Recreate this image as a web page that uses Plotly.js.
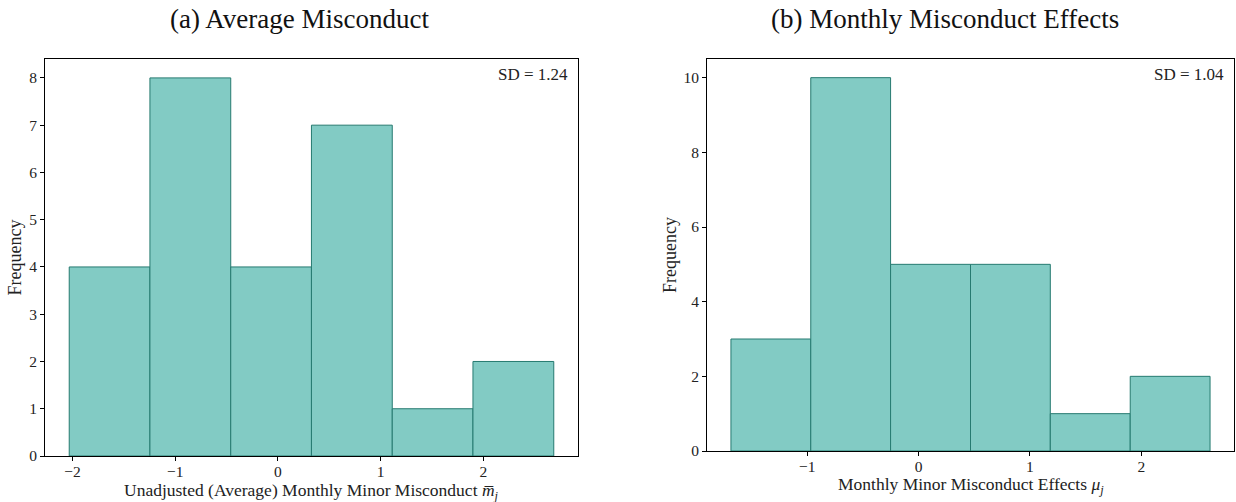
<!DOCTYPE html>
<html>
<head>
<meta charset="utf-8">
<script src="https://cdn.plot.ly/plotly-3.0.1.min.js"></script>
<style>html,body{margin:0;padding:0;background:#fff;}#chart{width:1236px;height:502px;}</style>
</head>
<body>
<div id="chart"></div>
<script>
// Panel (a): histogram bin edges and counts
const leftEdges = [-2.033, -1.247, -0.460, 0.326, 1.113, 1.899, 2.686];
const leftCounts = [4, 8, 4, 7, 1, 2];
const leftSD = "1.24";
// Panel (b)
const rightEdges = [-1.686, -0.969, -0.252, 0.466, 1.183, 1.901, 2.618];
const rightCounts = [3, 10, 5, 5, 1, 2];
const rightSD = "1.04";

const titles = ["(a) Average Misconduct", "(b) Monthly Misconduct Effects"];
const xTitles = ["Unadjusted (Average) Monthly Minor Misconduct <i>m\u0305</i><sub><i>j</i></sub>",
                 "Monthly Minor Misconduct Effects <i>\u03bc</i><sub><i>j</i></sub>"];

function centers(e){ const c=[]; for(let i=0;i<e.length-1;i++) c.push((e[i]+e[i+1])/2); return c; }
function widths(e){ const w=[]; for(let i=0;i<e.length-1;i++) w.push(e[i+1]-e[i]); return w; }
function pad(e){ const s=e[e.length-1]-e[0]; return [e[0]-0.05*s, e[e.length-1]+0.05*s]; }

const fill = "rgba(130,203,196,1)";
const edge = "rgb(38,122,112)";
const W = 1236, H = 502;
const fx = p => p / W, fy = p => (H - p) / H;

const traces = [
  {type:"bar", x:centers(leftEdges), y:leftCounts, width:widths(leftEdges), xaxis:"x", yaxis:"y",
   marker:{color:fill, line:{color:edge, width:1}}, hoverinfo:"x+y"},
  {type:"bar", x:centers(rightEdges), y:rightCounts, width:widths(rightEdges), xaxis:"x2", yaxis:"y2",
   marker:{color:fill, line:{color:edge, width:1}}, hoverinfo:"x+y"}
];

const fontFam = "Liberation Serif, Times New Roman, serif";
const axBase = {showgrid:false, zeroline:false, showline:true, linecolor:"#000", linewidth:1, mirror:true,
  ticks:"outside", ticklen:4, tickwidth:1, tickcolor:"#000", tickfont:{family:fontFam, size:15.5, color:"#222"}};
const xExtra = {ticklabelstandoff:-3};

const layout = {
  width:W, height:H, margin:{l:0,r:0,t:0,b:0}, showlegend:false, bargap:0,
  paper_bgcolor:"#fff", plot_bgcolor:"#fff", font:{family:fontFam, color:"#222"},
  xaxis:Object.assign({}, axBase, xExtra, {domain:[fx(45), fx(578)], range:pad(leftEdges), anchor:"y", dtick:1, tick0:0}),
  yaxis:Object.assign({}, axBase, {domain:[fy(456), fy(59)], range:[0, 8.4], anchor:"x", dtick:1, tick0:0,
     title:{text:"Frequency", font:{family:fontFam, size:18, color:"#222"}, standoff:2}}),
  xaxis2:Object.assign({}, axBase, xExtra, {domain:[fx(707), fx(1234)], range:pad(rightEdges), anchor:"y2", dtick:1, tick0:0}),
  yaxis2:Object.assign({}, axBase, {domain:[fy(451), fy(59)], range:[0, 10.5], anchor:"x2", dtick:2, tick0:0,
     title:{text:"Frequency", font:{family:fontFam, size:18, color:"#222"}, standoff:2}}),
  annotations:[
    {text:titles[0], xref:"paper", yref:"paper", x:fx(299), y:fy(19), xanchor:"center", yanchor:"middle", showarrow:false,
     font:{family:fontFam, size:27, color:"#111"}},
    {text:titles[1], xref:"paper", yref:"paper", x:fx(945), y:fy(19), xanchor:"center", yanchor:"middle", showarrow:false,
     font:{family:fontFam, size:27, color:"#111"}},
    {text:xTitles[0], xref:"paper", yref:"paper", x:fx(311.5), y:fy(491), xanchor:"center", yanchor:"middle", showarrow:false,
     font:{family:fontFam, size:17.5, color:"#222"}},
    {text:xTitles[1], xref:"paper", yref:"paper", x:fx(970.5), y:fy(485), xanchor:"center", yanchor:"middle", showarrow:false,
     font:{family:fontFam, size:17.5, color:"#222"}},
    {text:"SD = " + leftSD, xref:"x domain", yref:"y domain", x:0.985, y:0.99, xanchor:"right", yanchor:"top", showarrow:false,
     font:{family:fontFam, size:17, color:"#222"}},
    {text:"SD = " + rightSD, xref:"x2 domain", yref:"y2 domain", x:0.985, y:0.99, xanchor:"right", yanchor:"top", showarrow:false,
     font:{family:fontFam, size:17, color:"#222"}}
  ]
};

Plotly.newPlot("chart", traces, layout, {staticPlot:true, displayModeBar:false});
</script>
</body>
</html>
